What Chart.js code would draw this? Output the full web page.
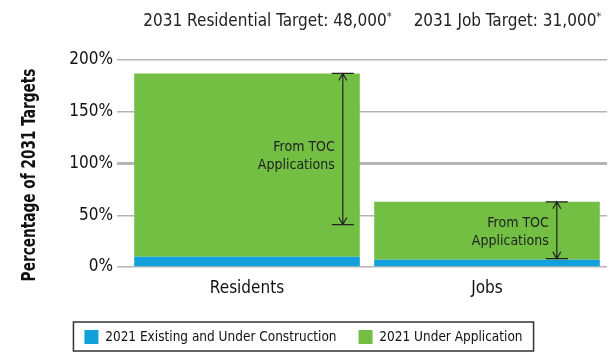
<!DOCTYPE html>
<html>
<head>
<meta charset="utf-8">
<script src="https://cdn.jsdelivr.net/npm/chart.js@4"></script>
<style>
  html, body { margin: 0; padding: 0; background: #fff; }
  #wrap { width: 616px; height: 358px; }
</style>
</head>
<body>
<div id="wrap"><canvas id="targetsChart"></canvas></div>
<script>
// values, percent of 2031 targets
const categories = ['Residents', 'Jobs'];
const existingPct = [10, 7];
const applicationPct = [177, 56];
const targetLabels = ['2031 Residential Target: 48,000', '2031 Job Target: 31,000'];
const yTitle = 'Percentage of 2031 Targets';
// arrow span "From TOC Applications" [from, to] in percent
const tocArrowFrom = [41, 8];
const tocArrowTo = [187, 63];
const yTicks = [0, 50, 100, 150, 200];

const FONT = "'Liberation Sans Narrow', 'DejaVu Sans Condensed', sans-serif";

const annotate = {
    id: 'annotate',
    afterDatasetsDraw(chart) {
        const ctx = chart.ctx;
        const y = chart.scales.y;
        const bars = chart.getDatasetMeta(1).data;
        const inset = [17, 43];
        const textShift = [7, 2];
        ctx.save();
        ctx.strokeStyle = '#222';
        ctx.fillStyle = '#222';
        ctx.lineWidth = 1.2;
        bars.forEach((bar, i) => {
            const ax = bar.x + bar.width / 2 - inset[i];
            const y1 = y.getPixelForValue(tocArrowTo[i]);
            const y2 = y.getPixelForValue(tocArrowFrom[i]);
            ctx.beginPath();
            ctx.moveTo(ax, y1); ctx.lineTo(ax, y2);
            ctx.moveTo(ax - 11, y1); ctx.lineTo(ax + 11, y1);
            ctx.moveTo(ax - 11, y2); ctx.lineTo(ax + 11, y2);
            ctx.moveTo(ax - 4, y1 + 7); ctx.lineTo(ax, y1); ctx.lineTo(ax + 4, y1 + 7);
            ctx.moveTo(ax - 4, y2 - 7); ctx.lineTo(ax, y2); ctx.lineTo(ax + 4, y2 - 7);
            ctx.stroke();
            const my = (y1 + y2) / 2 + textShift[i];
            ctx.font = '14px ' + FONT;
            ctx.textAlign = 'right';
            ctx.textBaseline = 'middle';
            ctx.fillText('From TOC', ax - 8, my - 9);
            ctx.fillText('Applications', ax - 8, my + 9);

            // target headings above the bars
            ctx.font = '17px ' + FONT;
            ctx.textAlign = 'center';
            const cx = bar.x + 21;
            const w = ctx.measureText(targetLabels[i]).width;
            ctx.fillText(targetLabels[i], cx - 3, 22);
            ctx.font = '11px ' + FONT;
            ctx.textAlign = 'left';
            ctx.fillText('*', cx - 3 + w / 2, 17);
        });

        // condensed bold axis title
        ctx.translate(30, 175);
        ctx.rotate(-Math.PI / 2);
        ctx.scale(0.8, 1);
        ctx.font = 'bold 19px ' + FONT;
        ctx.textAlign = 'center';
        ctx.fillStyle = '#111';
        ctx.fillText(yTitle, 0, 0);
        ctx.restore();
    },
    afterDraw(chart) {
        const boxes = chart.legend.legendHitBoxes;
        if (!boxes || !boxes.length) return;
        const left = Math.min(...boxes.map(b => b.left)) - 11;
        const right = Math.max(...boxes.map(b => b.left + b.width)) + 11;
        const top = boxes[0].top - 8;
        const ctx = chart.ctx;
        ctx.save();
        ctx.strokeStyle = '#333';
        ctx.lineWidth = 1.5;
        ctx.strokeRect(left, top, right - left, boxes[0].height + 15);
        ctx.restore();
    }
};

new Chart(document.getElementById('targetsChart'), {
    type: 'bar',
    data: {
        labels: categories,
        datasets: [{
            label: '2021 Existing and Under Construction',
            data: existingPct,
            backgroundColor: '#12a0dc'
        }, {
            label: '2021 Under Application',
            data: applicationPct,
            backgroundColor: '#72bf44'
        }]
    },
    options: {
        responsive: true,
        maintainAspectRatio: false,
        animation: false,
        layout: { padding: { top: 60, right: 9, left: 0, bottom: 4 } },
        datasets: { bar: { barPercentage: 1, categoryPercentage: 0.94 } },
        plugins: {
            tooltip: { enabled: false },
            legend: {
                position: 'bottom',
                labels: {
                    boxWidth: 14,
                    boxHeight: 14,
                    color: '#111',
                    padding: 22,
                    font: { family: FONT, size: 13.5 }
                }
            }
        },
        scales: {
            x: {
                stacked: true,
                grid: { display: false },
                border: { display: false },
                afterFit: s => { s.height = 41; },
                ticks: { color: '#111', font: { family: FONT, size: 17 }, padding: 3 }
            },
            y: {
                stacked: true,
                min: 0,
                max: 200,
                afterBuildTicks: axis => { axis.ticks = yTicks.map(v => ({ value: v })); },
                afterFit: s => { s.width = 127; },
                border: { display: false },
                grid: {
                    color: '#b5b5b5',
                    lineWidth: c => c.tick && c.tick.value === 100 ? 3 : 1.5,
                    tickLength: 10
                },
                ticks: {
                    color: '#111',
                    padding: 4,
                    font: { family: FONT, size: 17 },
                    callback: v => v + '%'
                }
            }
        }
    },
    plugins: [annotate]
});
</script>
</body>
</html>
